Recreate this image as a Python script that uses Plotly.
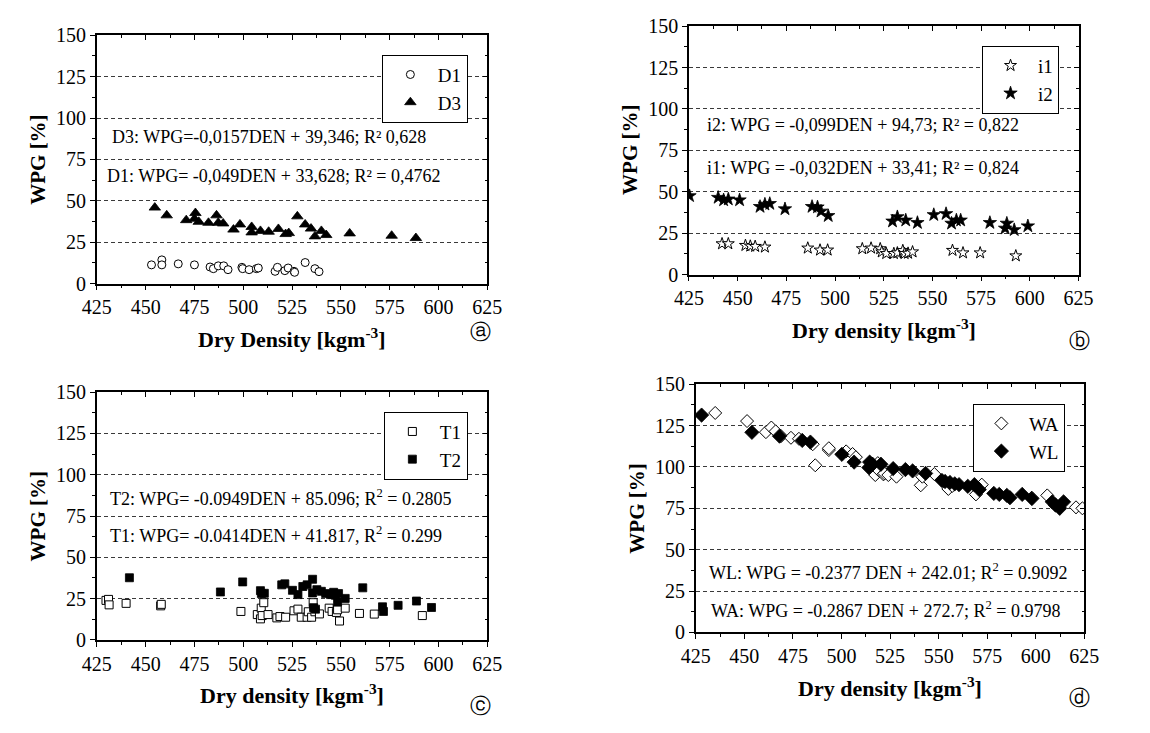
import plotly.graph_objects as go

W, H = 1150, 733
SERIF = "Liberation Serif, Times New Roman, serif"

# ---------------- data ----------------
# (a) D1 / D3
d1_den = [453, 458.3, 458.3, 466.7, 475, 483, 484.7, 487.2, 490, 492.2, 499.3, 499.7,
          503, 506.7, 507.7, 516.3, 517.5, 521.3, 523, 526, 526.3, 531.7, 536.7, 538.8]
d1_wpg = [11.3, 14.3, 11.3, 11.9, 11.3, 10, 9, 10.7, 10.7, 8.4, 9.8, 9,
          8.4, 9, 9.4, 7.4, 9.8, 7.8, 9.4, 7.4, 6.8, 12.7, 9, 7.2]
d3_den = [454.7, 460.8, 470.8, 475.5, 475, 477.2, 482.2, 486.3, 487.2, 489.7, 495, 498.3,
          504.3, 504.3, 508.8, 513, 518, 521.7, 523.3, 527.7, 531.7, 534.7, 536.7, 540,
          542.5, 554.5, 576, 588.4]
d3_wpg = [45.9, 41.2, 38.3, 42.6, 39.1, 37.3, 36.7, 41.2, 36.7, 36.3, 32.6, 35.7,
          34.2, 30.9, 31.8, 31.3, 33, 29.9, 30.5, 40.6, 35.7, 33.2, 28.5, 31.8,
          29.3, 30.3, 28.9, 27.5]

# (b) i1 / i2
i1_den = [442, 445.2, 454, 456.5, 459, 464, 486, 492.3, 496.2, 514, 518.5, 523.2,
          524, 526.3, 530.2, 532, 534.8, 535.7, 537.5, 539.8, 560.3, 565.7, 574.5, 592.8]
i1_wpg = [18.6, 18.6, 17.6, 17.2, 17, 16.6, 16, 14.8, 14.8, 15.6, 16, 15.6,
          13.7, 12.7, 12.7, 13.1, 14.5, 12.7, 12.9, 13.7, 14.6, 13.1, 13.1, 11.3]
i2_den = [425.3, 440, 442.8, 445.2, 451, 461.5, 464, 466.5, 474.3, 488.2, 491, 492.8,
          496.5, 529.5, 532, 536.3, 542.3, 550.7, 557, 559.8, 562.3, 564.5, 579.5,
          588.2, 587.3, 592, 599]
i2_wpg = [47.5, 46.5, 45, 45.5, 45, 41, 42.4, 42.8, 39.6, 41, 40.7, 38.2,
          35.5, 32.2, 34.8, 32.8, 31.3, 36.1, 36.7, 30.9, 32.8, 32.8, 31.3,
          30.9, 27.9, 27, 29.3]

# (c) T1 / T2
t1_den = [429.7, 431, 431.3, 440, 457.7, 458, 498.8, 507.2, 509.2, 508.8, 509.7, 510.5,
          512.7, 517.2, 518.8, 521.7, 526, 528, 529.7, 532.7, 533.3, 535, 535.8, 536.7,
          539, 544, 545.5, 547.7, 548.3, 549.3, 552.2, 559.5, 567.1, 591.7]
t1_wpg = [23.9, 24.5, 21.2, 22.1, 20.6, 21.5, 17.2, 15.3, 19.2, 12.7, 14.7, 22.5,
          15.3, 13.3, 14.1, 13.7, 17.6, 18.6, 13.7, 13.7, 17, 13.7, 22.5, 17,
          15.7, 19.2, 17.2, 16.6, 18.2, 11.4, 19.2, 16, 15.6, 14.7]
t2_den = [441.7, 488.3, 499.7, 508.8, 509.3, 510.8, 519.7, 521.3, 525.2, 528, 530.5,
          532.7, 535.5, 535.5, 537.7, 540, 542.2, 544.7, 546.3, 547.2, 548.8, 548.3,
          552.2, 561.2, 537, 536, 571.3, 571.8, 579.3, 588.7, 596.4]
t2_wpg = [37.6, 29, 35.1, 29.8, 28, 28.2, 33.3, 33.9, 30, 27.4, 32.3,
          33.3, 36.7, 28.4, 30.4, 29.4, 28, 27.4, 28.8, 27, 28, 22.9,
          25.1, 31.5, 18.6, 19.5, 20, 17.2, 20.9, 23.5, 19.6]

# (d) WA / WL
wa_den = [435, 451.4, 461.1, 463.9, 466.1, 468.9, 474, 478.1, 485.2, 486.5, 493.5, 493.5,
          502.4, 505.7, 507.4, 517.4, 518.7, 519.1, 521.6, 522.1, 524.1, 528.3, 540.8,
          541.6, 547.8, 555, 557, 569.2, 572.2, 597.9, 605.9, 620.7, 624]
wa_wpg = [132.6, 127.7, 121, 123.8, 121.5, 118.6, 117.6, 117, 113.7, 101, 110.2, 111.3,
          109.4, 107.8, 105.9, 95.1, 102.3, 98, 95.5, 96.1, 95.1, 94.1, 88.9,
          94.1, 95.7, 86.7, 88.5, 83.4, 89.3, 81.4, 82.8, 75.6, 75]
wl_den = [428, 453.9, 468.1, 479.8, 484, 500.2, 506.5, 514.5, 516, 514.1, 520.3, 526.6,
          532.9, 536.6, 543.3, 551.7, 553.3, 555.8, 558.3, 560.5, 565, 568.4, 570.9,
          578.4, 581.2, 585.1, 586.7, 593, 598, 608.5, 610.1, 612.3, 614.3]
wl_wpg = [131.3, 120.9, 118.6, 116, 115, 107.6, 102.9, 102.9, 101.6, 99.6, 101.6, 99,
          98.4, 97.6, 96.1, 91.8, 91.2, 90.6, 89.8, 89.3, 88.3, 89.3, 86.3,
          84, 83.4, 82.8, 81.4, 83.4, 80.9, 78.9, 77, 75, 78.9]

x_range = [425, 625]
y_range = [0, 150]

# ---------------- panels ----------------
# plot boxes in pixels: left, top, right, bottom
panels = [
    dict(box=(84, 25, 485, 281),
         series=[("D1", d1_den, d1_wpg, "circle", False, 8),
                 ("D3", d3_den, d3_wpg, "triangle-up", True, 10)],
         eqs=[("D3: WPG=-0,0157DEN + 39,346; R² 0,628", 98, 130),
              ("D1: WPG= -0,049DEN + 33,628; R² = 0,4762", 92, 170)],
         xtitle="Dry Density [kgm<sup>-3</sup>]", letter="ⓐ", letter_pos=(478, 331)),
    dict(box=(692, 15.7, 1092, 271.7),
         series=[("i1", i1_den, i1_wpg, "star", False, 9),
                 ("i2", i2_den, i2_wpg, "star", True, 10)],
         eqs=[("i2: WPG = -0,099DEN + 94,73; R² = 0,822", 708, 118),
              ("i1: WPG = -0,032DEN + 33,41; R² = 0,824", 708, 162)],
         xtitle="Dry density [kgm<sup>-3</sup>]", letter="ⓑ", letter_pos=(1093, 340)),
    dict(box=(84, 393, 485, 648.3),
         series=[("T1", t1_den, t1_wpg, "square", False, 8),
                 ("T2", t2_den, t2_wpg, "square", True, 8)],
         eqs=[("T2: WPG= -0.0949DEN + 85.096; R<sup>2</sup> = 0.2805", 95, 502),
              ("T1: WPG= -0.0414DEN + 41.817, R<sup>2</sup> = 0.299", 95, 540)],
         xtitle="Dry density [kgm<sup>-3</sup>]", letter="ⓒ", letter_pos=(478, 716)),
    dict(box=(699, 384.7, 1098, 640.7),
         series=[("WA", wa_den, wa_wpg, "diamond", False, 10),
                 ("WL", wl_den, wl_wpg, "diamond", True, 11)],
         eqs=[("WL: WPG = -0.2377 DEN + 242.01; R<sup>2</sup> = 0.9092", 711, 578),
              ("WA: WPG = -0.2867 DEN + 272.7; R<sup>2</sup> = 0.9798", 713, 617)],
         xtitle="Dry density [kgm<sup>-3</sup>]", letter="ⓓ", letter_pos=(1093, 708)),
]

fig = go.Figure()
layout = dict(width=W, height=H, margin=dict(l=0, r=0, t=0, b=0),
              paper_bgcolor="white", plot_bgcolor="white", showlegend=True,
              font=dict(family=SERIF, size=20, color="black"))
annotations = []

tickfont = dict(family=SERIF, size=20, color="black")
tick_style = dict(ticklen=5, tickwidth=1.2, tickcolor="black")
minor_len = dict(dtick=12.5, ticklen=3, tickwidth=1, tickcolor="black")

for k, p in enumerate(panels):
    left, top, right, bottom = p["box"]
    xd = [left / W, right / W]
    yd = [1 - bottom / H, 1 - top / H]
    ib, it = 2 * k + 1, 2 * k + 2  # bottom/left axes, top/right mirror axes
    xb, yb = f"x{ib}", f"y{ib}"
    xt, yt = f"x{it}", f"y{it}"
    sb = "" if ib == 1 else str(ib)

    layout[f"xaxis{sb}"] = dict(
        domain=xd, anchor=yb, range=x_range, tick0=425, dtick=25,
        ticks="outside", **tick_style, minor=dict(ticks="outside", **minor_len),
        showline=True, linecolor="black", linewidth=1.5, showgrid=False,
        zeroline=False, tickfont=tickfont, fixedrange=True)
    layout[f"yaxis{sb}"] = dict(
        domain=yd, anchor=xb, range=y_range, tick0=0, dtick=25,
        ticks="outside", **tick_style, minor=dict(ticks="outside", **minor_len),
        showline=True, linecolor="black", linewidth=1.5,
        showgrid=True, gridcolor="#3a3a3a", gridwidth=1, griddash="4px,3px",
        zeroline=False, tickfont=tickfont, fixedrange=True)
    # mirror axes with inward ticks
    layout[f"xaxis{it}"] = dict(
        overlaying=xb, side="top", anchor=yb, range=x_range, tick0=425, dtick=25,
        ticks="inside", **tick_style, minor=dict(ticks="inside", **minor_len),
        showline=True, linecolor="black", linewidth=1.5, showgrid=False,
        zeroline=False, showticklabels=False, fixedrange=True)
    layout[f"yaxis{it}"] = dict(
        overlaying=yb, side="right", anchor=xb, range=y_range, tick0=0, dtick=25,
        ticks="inside", **tick_style, minor=dict(ticks="inside", **minor_len),
        showline=True, linecolor="black", linewidth=1.5, showgrid=False,
        zeroline=False, showticklabels=False, fixedrange=True)

    legend_name = "legend" if k == 0 else f"legend{k + 1}"
    for name, xs, ys, sym, filled, size in p["series"]:
        fig.add_trace(go.Scatter(
            x=xs, y=ys, mode="markers", name=name, xaxis=xb, yaxis=yb,
            legend=legend_name,
            marker=dict(symbol=sym, size=size,
                        color="black" if filled else "white",
                        line=dict(color="black", width=0.8 if filled else 1))))
    fig.add_trace(go.Scatter(x=[None], y=[None], xaxis=xt, yaxis=yt, mode="markers",
                             showlegend=False, hoverinfo="skip"))

    layout[legend_name] = dict(
        x=(right - 20) / W, y=1 - (top + 20) / H, xanchor="right", yanchor="top",
        bgcolor="white", bordercolor="black", borderwidth=1,
        font=dict(family=SERIF, size=19, color="black"),
        itemwidth=45, tracegroupgap=0)

    for text, lx, ly in p["eqs"]:
        annotations.append(dict(text=text, x=lx / W, y=1 - ly / H, xref="paper", yref="paper",
                                xanchor="left", yanchor="middle", showarrow=False,
                                font=dict(family=SERIF, size=18, color="black")))

    annotations.append(dict(text="<b>WPG [%]</b>", x=(left - 60) / W, y=1 - (top + bottom) / 2 / H,
                            xref="paper", yref="paper", textangle=-90, showarrow=False,
                            xanchor="center", yanchor="middle",
                            font=dict(family=SERIF, size=21, color="black")))
    annotations.append(dict(text=f"<b>{p['xtitle']}</b>", x=(left + right) / 2 / W,
                            y=1 - (bottom + 56) / H, xref="paper", yref="paper",
                            showarrow=False, xanchor="center", yanchor="middle",
                            font=dict(family=SERIF, size=22, color="black")))
    lxp, lyp = p["letter_pos"]
    annotations.append(dict(text=p["letter"], x=lxp / W, y=1 - lyp / H, xref="paper",
                            yref="paper", showarrow=False, xanchor="center", yanchor="middle",
                            font=dict(family="DejaVu Sans", size=21, color="black")))

layout["annotations"] = annotations
fig.update_layout(**layout)
fig.write_html("out.html")
